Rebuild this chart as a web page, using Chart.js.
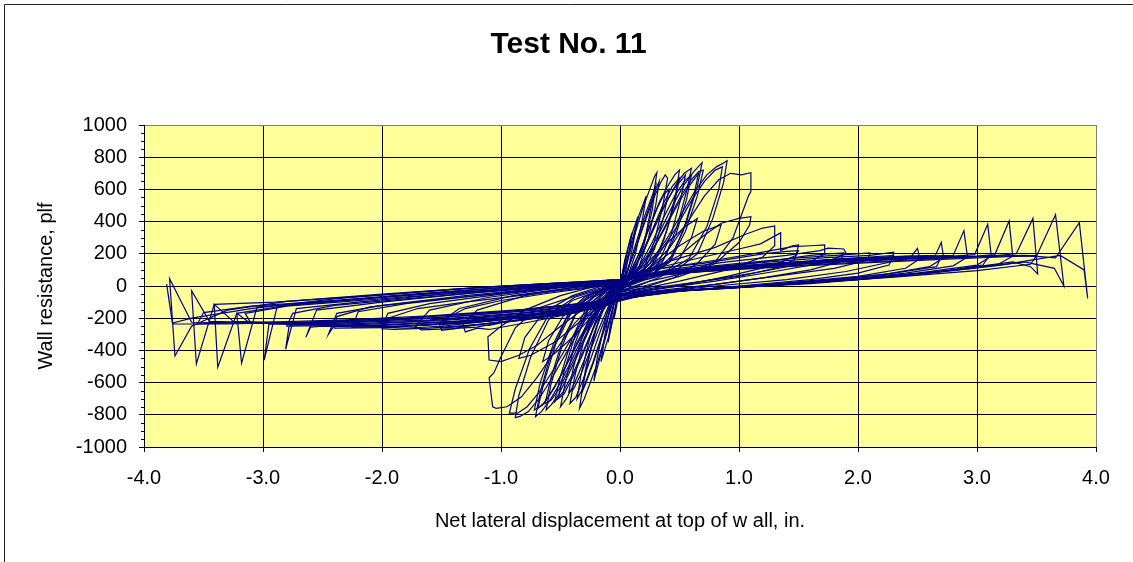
<!DOCTYPE html>
<html><head><meta charset="utf-8">
<script src="https://cdn.jsdelivr.net/npm/chart.js@4/dist/chart.umd.min.js"></script>
<style>html,body{margin:0;padding:0;background:#fff;}canvas{display:block;}</style>
</head><body>
<canvas id="c" width="1133" height="562"></canvas>
<script>
// ---- tick labels ----
const xTickValues = [-4, -3, -2, -1, 0, 1, 2, 3, 4];
const xTickLabels = ['-4.0', '-3.0', '-2.0', '-1.0', '0.0', '1.0', '2.0', '3.0', '4.0'];
const yTickValues = [-1000, -800, -600, -400, -200, 0, 200, 400, 600, 800, 1000];
const yTickLabels = ['-1000', '-800', '-600', '-400', '-200', '0', '200', '400', '600', '800', '1000'];

// ---- hysteresis cycles: [displacement (in), resistance (plf)] ----
const cycS1 = [[0,0],[0.02,80],[0.04,160],[0.05,190],[0.03,90],[0,-10],[-0.02,-90],[-0.04,-170],[-0.05,-200],[-0.03,-100],[0,0]];
const cycS2 = [[0,0],[0.03,110],[0.06,220],[0.1,330],[0.08,220],[0.04,60],[0,-20],[-0.04,-130],[-0.07,-240],[-0.1,-350],[-0.08,-230],[-0.04,-70],[0,10]];
const cycS3 = [[0,10],[0.04,140],[0.09,300],[0.15,430],[0.12,300],[0.07,100],[0.02,0],[-0.03,-110],[-0.09,-300],[-0.16,-470],[-0.13,-320],[-0.08,-110],[-0.02,0]];
const cycS4 = [[-0.02,0],[0.03,90],[0.1,280],[0.16,440],[0.22,560],[0.19,420],[0.13,200],[0.06,50],[0,-10],[-0.05,-110],[-0.11,-290],[-0.17,-450],[-0.22,-590],[-0.19,-440],[-0.12,-200],[-0.05,-40],[0,10]];
const cyc05 = [[0,10],[0.05,120],[0.12,310],[0.19,480],[0.25,600],[0.29,680],[0.31,704],[0.28,560],[0.22,330],[0.14,120],[0.06,30],[0,-10],[-0.06,-130],[-0.13,-330],[-0.2,-500],[-0.27,-640],[-0.3,-700],[-0.34,-760],[-0.31,-610],[-0.24,-380],[-0.16,-160],[-0.07,-40],[0,5]];
const cyc05b = [[0,5],[0.07,110],[0.14,280],[0.21,440],[0.27,560],[0.3,620],[0.27,470],[0.2,250],[0.11,80],[0.02,0],[-0.06,-100],[-0.14,-290],[-0.22,-470],[-0.29,-610],[-0.32,-660],[-0.29,-520],[-0.21,-280],[-0.12,-90],[-0.03,0]];
const cycF1 = [[0,0],[0.06,90],[0.13,230],[0.2,390],[0.26,520],[0.3,600],[0.33,650],[0.3,500],[0.24,300],[0.16,120],[0.07,30],[0,-20],[-0.07,-120],[-0.15,-300],[-0.23,-480],[-0.3,-620],[-0.36,-700],[-0.33,-560],[-0.26,-340],[-0.17,-140],[-0.08,-40],[0,0]];
const cyc06 = [[-0.03,0],[0.05,80],[0.13,230],[0.21,400],[0.28,540],[0.34,640],[0.38,690],[0.4,670],[0.36,500],[0.29,280],[0.2,110],[0.1,30],[0,-20],[-0.08,-110],[-0.16,-270],[-0.24,-440],[-0.31,-580],[-0.37,-690],[-0.42,-730],[-0.38,-560],[-0.3,-330],[-0.2,-140],[-0.09,-40],[0,10]];
const cyc06b = [[0,10],[0.08,70],[0.16,200],[0.24,350],[0.31,480],[0.37,570],[0.41,600],[0.37,440],[0.29,230],[0.19,80],[0.08,10],[-0.02,-40],[-0.1,-130],[-0.18,-270],[-0.26,-420],[-0.33,-550],[-0.39,-640],[-0.43,-660],[-0.39,-500],[-0.3,-270],[-0.19,-100],[-0.07,-20],[0,0]];
const cyc07 = [[0,10],[0.08,80],[0.16,200],[0.25,370],[0.33,520],[0.4,620],[0.46,690],[0.5,720],[0.47,580],[0.4,360],[0.3,160],[0.18,60],[0.05,10],[-0.05,-40],[-0.14,-150],[-0.22,-300],[-0.3,-460],[-0.38,-600],[-0.45,-700],[-0.5,-750],[-0.46,-600],[-0.38,-360],[-0.27,-150],[-0.14,-50],[0,0]];
const cyc07b = [[0,0],[0.1,80],[0.2,220],[0.29,380],[0.37,520],[0.44,620],[0.5,670],[0.46,520],[0.37,290],[0.26,120],[0.12,40],[0,-10],[-0.12,-100],[-0.22,-250],[-0.31,-420],[-0.4,-570],[-0.47,-670],[-0.52,-700],[-0.47,-530],[-0.37,-290],[-0.24,-100],[-0.1,-20]];
const cycF2 = [[0,0],[0.09,80],[0.19,210],[0.29,370],[0.38,510],[0.46,610],[0.52,660],[0.55,690],[0.51,540],[0.43,320],[0.32,140],[0.18,50],[0.04,0],[-0.08,-70],[-0.19,-210],[-0.3,-390],[-0.4,-550],[-0.48,-660],[-0.55,-720],[-0.5,-560],[-0.4,-320],[-0.28,-130],[-0.12,-30],[0,5]];
const cyc08 = [[-0.1,-20],[0,20],[0.1,90],[0.2,220],[0.3,380],[0.39,520],[0.47,630],[0.54,700],[0.6,731],[0.56,590],[0.48,370],[0.37,170],[0.23,70],[0.08,20],[-0.05,-40],[-0.15,-120],[-0.25,-260],[-0.35,-420],[-0.44,-560],[-0.52,-680],[-0.58,-740],[-0.62,-770],[-0.58,-610],[-0.49,-380],[-0.37,-170],[-0.22,-70],[-0.06,-10]];
const cyc08b = [[-0.06,-10],[0.05,30],[0.16,120],[0.27,270],[0.37,430],[0.46,560],[0.54,650],[0.6,690],[0.56,540],[0.47,320],[0.35,140],[0.2,50],[0.04,0],[-0.1,-70],[-0.22,-200],[-0.33,-370],[-0.43,-520],[-0.51,-640],[-0.58,-710],[-0.63,-730],[-0.58,-570],[-0.48,-330],[-0.35,-140],[-0.18,-40],[0,10]];
const cycF3 = [[0,5],[0.12,70],[0.25,190],[0.37,350],[0.48,500],[0.57,610],[0.64,680],[0.66,700],[0.62,560],[0.53,340],[0.41,150],[0.25,60],[0.08,10],[-0.07,-50],[-0.2,-160],[-0.33,-320],[-0.45,-490],[-0.55,-630],[-0.63,-720],[-0.69,-760],[-0.64,-600],[-0.54,-360],[-0.4,-150],[-0.22,-50],[-0.05,0]];
const cyc09 = [[0,10],[0.12,80],[0.24,200],[0.35,360],[0.45,510],[0.54,630],[0.62,710],[0.69,766],[0.65,620],[0.56,400],[0.44,190],[0.28,80],[0.1,20],[-0.05,-40],[-0.17,-130],[-0.29,-280],[-0.4,-450],[-0.5,-600],[-0.59,-710],[-0.66,-780],[-0.71,-812],[-0.67,-660],[-0.58,-420],[-0.45,-200],[-0.28,-80],[-0.1,-20]];
const cyc09b = [[-0.1,-20],[0.04,30],[0.17,110],[0.3,260],[0.42,430],[0.52,570],[0.6,660],[0.66,710],[0.7,720],[0.65,560],[0.55,340],[0.42,150],[0.25,60],[0.06,0],[-0.1,-60],[-0.23,-180],[-0.36,-350],[-0.47,-520],[-0.57,-650],[-0.65,-740],[-0.72,-770],[-0.67,-600],[-0.56,-360],[-0.42,-150],[-0.24,-50],[-0.05,0]];
const cyc10 = [[-0.05,0],[0.1,50],[0.25,140],[0.39,290],[0.52,450],[0.63,590],[0.73,690],[0.81,740],[0.86,760],[0.9,778],[0.87,640],[0.78,420],[0.65,200],[0.46,90],[0.22,40],[0,-20],[-0.15,-90],[-0.3,-220],[-0.44,-400],[-0.57,-570],[-0.68,-700],[-0.77,-780],[-0.84,-810],[-0.88,-818],[-0.85,-680],[-0.75,-440],[-0.6,-210],[-0.4,-90],[-0.18,-30]];
const cyc10b = [[-0.18,-30],[0,10],[0.16,70],[0.32,190],[0.47,360],[0.6,530],[0.71,650],[0.8,720],[0.86,740],[0.83,600],[0.73,370],[0.58,170],[0.38,80],[0.12,20],[-0.1,-50],[-0.27,-170],[-0.42,-340],[-0.56,-520],[-0.68,-660],[-0.78,-750],[-0.86,-790],[-0.93,-790],[-0.88,-640],[-0.76,-390],[-0.6,-180],[-0.38,-70],[-0.12,-10]];
const cyc11 = [[-0.12,-10],[0.05,30],[0.23,100],[0.41,230],[0.57,400],[0.71,560],[0.83,660],[0.93,700],[1.02,690],[1.1,704],[1.1,586],[1.08,560],[1.04,480],[0.95,300],[0.8,150],[0.55,80],[0.25,30],[0,-30],[-0.2,-100],[-0.38,-230],[-0.55,-410],[-0.7,-570],[-0.83,-690],[-0.95,-750],[-1.04,-760],[-1.07,-750],[-1.1,-570],[-1.06,-540],[-1.0,-440],[-0.88,-260],[-0.7,-140],[-0.45,-80],[-0.2,-20]];
const cyc11b = [[-0.2,-20],[0,20],[0.25,90],[0.5,190],[0.7,310],[0.85,390],[1.0,420],[1.1,430],[1.09,380],[1.0,270],[0.8,140],[0.5,60],[0.2,0],[0,-30],[-0.25,-110],[-0.5,-250],[-0.7,-370],[-0.85,-430],[-1.0,-470],[-1.1,-460],[-1.11,-315],[-1.0,-250],[-0.8,-150],[-0.5,-60],[-0.2,0]];
const cycF4 = [[0,0],[0.1,60],[0.25,160],[0.4,270],[0.55,370],[0.65,420],[0.6,300],[0.5,170],[0.35,60],[0.15,0],[0,-40],[-0.1,-100],[-0.25,-200],[-0.4,-320],[-0.55,-420],[-0.65,-470],[-0.6,-340],[-0.48,-190],[-0.3,-70],[-0.12,-10],[0,10]];
const cycF5 = [[0,10],[0.12,50],[0.3,140],[0.5,250],[0.7,340],[0.85,380],[0.8,260],[0.65,140],[0.45,50],[0.2,-10],[0,-40],[-0.15,-110],[-0.35,-230],[-0.55,-350],[-0.75,-430],[-0.85,-450],[-0.8,-320],[-0.65,-170],[-0.4,-60],[-0.15,0]];
const cyc13 = [[0,-30],[0.05,20],[0.15,80],[0.4,150],[0.8,240],[1.05,320],[1.2,360],[1.3,373],[1.3,250],[1.2,180],[0.9,100],[0.5,30],[0.1,-30],[-0.1,-90],[-0.4,-170],[-0.8,-230],[-1.1,-270],[-1.2,-262],[-1.3,-285],[-1.32,-240],[-1.2,-150],[-0.8,-60],[-0.4,-10],[0,20]];
const cyc15 = [[0,20],[0.1,60],[0.3,110],[0.7,180],[1.0,230],[1.18,262],[1.35,330],[1.35,220],[1.45,250],[1.5,255],[1.48,190],[1.3,130],[0.9,60],[0.5,0],[0.1,-40],[-0.1,-100],[-0.4,-160],[-0.8,-210],[-1.0,-225],[-1.2,-255],[-1.35,-262],[-1.5,-275],[-1.52,-230],[-1.35,-140],[-0.9,-60],[-0.4,-10],[0,25]];
const cyc15b = [[0,25],[0.08,70],[0.2,95],[0.45,120],[0.7,140],[0.95,170],[1.2,200],[1.4,215],[1.5,220],[1.46,160],[1.3,110],[1.0,60],[0.6,20],[0.3,-10],[0,-50],[-0.1,-110],[-0.3,-150],[-0.6,-185],[-0.9,-215],[-1.2,-240],[-1.4,-255],[-1.5,-260],[-1.46,-200],[-1.3,-140],[-1.0,-90],[-0.6,-45],[-0.2,-5],[0,15]];
const cyc17 = [[0,25],[0.1,70],[0.35,110],[0.8,160],[1.2,210],[1.45,245],[1.6,250],[1.72,255],[1.72,200],[1.6,150],[1.2,90],[0.7,30],[0.2,-30],[-0.1,-110],[-0.5,-180],[-1.0,-230],[-1.1,-245],[-1.2,-240],[-1.4,-265],[-1.67,-272],[-1.72,-250],[-1.6,-150],[-1.1,-70],[-0.5,-10],[0,20]];
const cyc19 = [[0,20],[0.1,50],[0.4,100],[0.9,150],[1.4,190],[1.68,220],[1.75,235],[1.88,230],[1.9,205],[1.75,150],[1.3,90],[0.8,30],[0.3,-20],[-0.1,-90],[-0.5,-160],[-1.0,-210],[-1.5,-250],[-1.8,-262],[-2.0,-255],[-1.95,-170],[-1.6,-110],[-1.0,-50],[-0.4,0],[0,30]];
const cyc19b = [[0,15],[0.1,55],[0.3,80],[0.6,105],[1.0,130],[1.3,160],[1.6,190],[1.75,200],[1.88,205],[1.85,150],[1.6,100],[1.2,50],[0.8,10],[0.4,-30],[0,-60],[-0.1,-120],[-0.4,-170],[-0.8,-205],[-1.2,-240],[-1.6,-262],[-1.9,-270],[-2.0,-265],[-1.95,-200],[-1.7,-140],[-1.3,-100],[-0.8,-55],[-0.3,-10],[0,20]];
const cyc21 = [[0,30],[0.1,60],[0.4,95],[1.0,140],[1.5,175],[1.9,195],[2.1,205],[2.08,160],[1.8,110],[1.3,60],[0.8,10],[0.3,-30],[-0.1,-100],[-0.6,-170],[-1.2,-220],[-1.8,-250],[-2.25,-255],[-2.2,-160],[-1.8,-110],[-1.2,-60],[-0.5,-5],[0,25]];
const cyc23 = [[0,25],[0.15,60],[0.5,100],[1.1,140],[1.7,175],[2.1,190],[2.3,210],[2.28,150],[1.9,90],[1.4,40],[0.8,0],[0.3,-40],[-0.1,-110],[-0.6,-180],[-1.2,-225],[-1.9,-250],[-2.4,-245],[-2.45,-300],[-2.38,-170],[-2.0,-120],[-1.3,-60],[-0.6,-10],[0,30]];
const cyc23b = [[0,20],[0.1,45],[0.4,75],[0.8,105],[1.3,135],[1.8,165],[2.1,180],[2.3,190],[2.26,130],[2.0,80],[1.6,40],[1.0,0],[0.5,-30],[0,-60],[-0.1,-115],[-0.5,-160],[-1.0,-200],[-1.5,-235],[-2.0,-258],[-2.4,-262],[-2.38,-190],[-2.1,-130],[-1.6,-90],[-1.0,-45],[-0.4,0],[0,25]];
const cyc25 = [[0,30],[0.15,55],[0.5,90],[1.2,135],[1.8,165],[2.3,180],[2.45,185],[2.5,234],[2.52,170],[2.4,110],[2.0,60],[1.4,20],[0.7,-20],[0.2,-50],[-0.1,-110],[-0.7,-190],[-1.4,-235],[-2.0,-255],[-2.5,-250],[-2.6,-255],[-2.64,-319],[-2.55,-150],[-2.0,-100],[-1.2,-40],[-0.5,5],[0,35]];
const cyc27 = [[0,35],[0.15,60],[0.6,100],[1.3,140],[1.9,170],[2.4,185],[2.65,190],[2.7,271],[2.72,175],[2.6,120],[2.2,70],[1.5,20],[0.8,-15],[0.2,-45],[-0.1,-100],[-0.6,-170],[-1.3,-220],[-2.0,-245],[-2.6,-240],[-2.78,-245],[-2.81,-393],[-2.72,-140],[-2.2,-100],[-1.4,-45],[-0.6,5],[0,40]];
const cyc27b = [[0,25],[0.1,50],[0.5,80],[1.0,110],[1.6,140],[2.1,160],[2.5,175],[2.7,185],[2.66,120],[2.3,80],[1.8,40],[1.2,5],[0.6,-25],[0,-55],[-0.1,-105],[-0.6,-155],[-1.2,-195],[-1.8,-225],[-2.3,-245],[-2.8,-250],[-2.75,-170],[-2.4,-120],[-1.8,-80],[-1.1,-35],[-0.4,5],[0,30]];
const cyc29 = [[0,40],[0.2,70],[0.7,110],[1.4,145],[2.1,170],[2.6,185],[2.8,190],[2.89,344],[2.92,180],[2.8,125],[2.4,80],[1.7,25],[0.9,-15],[0.3,-40],[-0.1,-95],[-0.7,-175],[-1.4,-220],[-2.1,-245],[-2.7,-240],[-2.95,-235],[-2.99,-460],[-2.88,-125],[-2.4,-95],[-1.6,-45],[-0.7,5],[0,35]];
const cyc31 = [[0,35],[0.2,65],[0.8,110],[1.5,145],[2.2,170],[2.8,185],[2.98,195],[3.09,383],[3.12,185],[3.0,130],[2.5,80],[1.8,30],[1.0,-10],[0.3,-40],[-0.1,-100],[-0.7,-170],[-1.5,-215],[-2.3,-235],[-2.9,-230],[-3.12,-225],[-3.22,-170],[-3.18,-480],[-3.05,-130],[-2.5,-100],[-1.7,-50],[-0.8,0],[0,40]];
const cyc31b = [[0,30],[0.15,55],[0.6,85],[1.2,115],[1.8,140],[2.4,160],[2.8,175],[3.1,185],[3.05,130],[2.7,90],[2.1,50],[1.4,10],[0.7,-20],[0,-50],[-0.1,-100],[-0.7,-150],[-1.4,-190],[-2.0,-215],[-2.6,-230],[-3.1,-232],[-3.15,-170],[-2.8,-125],[-2.1,-85],[-1.3,-40],[-0.5,0],[0,30]];
const cyc33 = [[0,40],[0.2,70],[0.8,110],[1.6,150],[2.4,172],[3.0,185],[3.15,195],[3.27,404],[3.3,185],[3.18,135],[2.7,90],[2.0,40],[1.2,0],[0.4,-35],[-0.1,-95],[-0.8,-165],[-1.6,-210],[-2.4,-230],[-3.0,-225],[-3.25,-220],[-3.41,-114],[-3.38,-505],[-3.22,-170],[-2.7,-110],[-1.9,-60],[-1.0,-10],[0,40]];
const cyc35 = [[0,40],[0.2,65],[0.9,110],[1.7,150],[2.5,172],[3.1,185],[3.33,200],[3.47,420],[3.51,75],[3.45,120],[3.3,150],[2.8,100],[2.1,50],[1.3,5],[0.5,-30],[-0.1,-90],[-0.9,-160],[-1.7,-205],[-2.5,-225],[-3.1,-225],[-3.45,-220],[-3.6,-29],[-3.56,-484],[-3.41,-114],[-2.9,-100],[-2.0,-55],[-1.1,-5],[0,40]];
const cyc35b = [[0,30],[0.15,55],[0.7,90],[1.4,120],[2.1,145],[2.7,165],[3.2,180],[3.5,190],[3.45,135],[3.0,95],[2.3,55],[1.5,15],[0.7,-20],[0,-45],[-0.1,-95],[-0.8,-145],[-1.6,-185],[-2.3,-210],[-3.0,-225],[-3.55,-235],[-3.5,-165],[-3.1,-125],[-2.4,-90],[-1.5,-45],[-0.6,0],[0,30]];
const cyc37 = [[0,40],[0.25,70],[1.0,115],[1.8,150],[2.6,175],[3.2,185],[3.5,185],[3.66,443],[3.73,0],[3.65,110],[3.4,150],[2.9,105],[2.2,55],[1.4,10],[0.5,-30],[-0.1,-90],[-0.9,-155],[-1.8,-200],[-2.6,-225],[-3.2,-228],[-3.6,-225],[-3.785,45],[-3.74,-435],[-3.6,-250],[-3.3,-150],[-2.8,-95],[-2.0,-50],[-1.1,-5],[0,40]];
const cyc39 = [[0,40],[0.25,70],[1.0,115],[1.9,155],[2.8,180],[3.4,190],[3.66,175],[3.86,393],[3.93,-77],[3.9,100],[3.7,190],[3.2,130],[2.5,70],[1.6,15],[0.6,-25],[-0.1,-90],[-1.0,-160],[-1.9,-205],[-2.8,-228],[-3.3,-236],[-3.76,-236],[-3.81,12],[-3.76,-230],[-3.6,-200],[-3.1,-140],[-2.4,-80],[-1.4,-20],[-0.5,20],[0,30]];

const cycles = [cycS1, cycS2, cycS3, cycS4, cyc05, cyc05b, cycF1, cyc06, cyc06b, cyc07, cyc07b, cycF2,
  cyc08, cyc08b, cycF3, cyc09, cyc09b, cyc10, cyc10b, cyc11, cyc11b, cycF4, cycF5,
  cyc13, cyc15, cyc15b, cyc17, cyc19, cyc19b, cyc21, cyc23, cyc23b, cyc25, cyc27, cyc27b,
  cyc29, cyc31, cyc31b, cyc33, cyc35, cyc35b, cyc37, cyc39];

const FONT = "'Liberation Sans', Arial, sans-serif";

const plotBg = {
  id: 'plotBg',
  beforeDraw(chart) {
    const {ctx, chartArea: a} = chart;
    ctx.save();
    ctx.fillStyle = '#FFFF99';
    ctx.fillRect(a.left, a.top, a.right - a.left, a.bottom - a.top);
    ctx.restore();
  },
  afterDraw(chart) {
    const {ctx, chartArea: a} = chart;
    const ys = chart.scales.y;
    ctx.save();
    ctx.strokeStyle = '#000';
    ctx.lineWidth = 1;
    ctx.beginPath();
    for (let i = 0; i < yTickValues.length - 1; i++) {
      for (let k = 1; k < 4; k++) {
        const v = yTickValues[i] + k * 50;
        const py = Math.round(ys.getPixelForValue(v)) + 0.5;
        ctx.moveTo(a.left - 3, py);
        ctx.lineTo(a.left, py);
      }
    }
    ctx.stroke();
    ctx.strokeStyle = '#222';
    ctx.beginPath();
    ctx.moveTo(4.5, 562);
    ctx.lineTo(4.5, 4.5);
    ctx.lineTo(1133, 4.5);
    ctx.stroke();
    ctx.restore();
  }
};

new Chart(document.getElementById('c'), {
  type: 'scatter',
  data: {
    datasets: cycles.map(c => ({
      data: c.map(p => ({x: p[0], y: p[1]})),
      showLine: true,
      borderColor: '#000080',
      backgroundColor: '#000080',
      borderWidth: 1.2,
      pointRadius: 0,
      tension: 0
    }))
  },
  options: {
    responsive: false,
    animation: false,
    layout: {padding: {left: 41, right: 37, top: 0, bottom: 0}},
    plugins: {
      legend: {display: false},
      tooltip: {enabled: false},
      title: {
        display: true,
        text: 'Test No. 11',
        color: '#000',
        font: {family: FONT, size: 30, weight: 'bold'},
        padding: {top: 27, bottom: 62}
      }
    },
    scales: {
      x: {
        type: 'linear',
        min: -4, max: 4,
        afterBuildTicks(s) { s.ticks = xTickValues.map(v => ({value: v})); },
        afterFit(s) { s.height = 115; },
        ticks: {
          color: '#000',
          font: {family: FONT, size: 20},
          padding: 14,
          maxRotation: 0,
          callback: (v, i) => xTickLabels[i]
        },
        grid: {
          color: ctx => (ctx.tick && ctx.tick.value === 4) ? '#808080' : '#000',
          lineWidth: 1,
          tickLength: 5,
          tickColor: '#000'
        },
        border: {color: '#000', width: 1},
        title: {
          display: true,
          text: 'Net lateral displacement at top of w all, in.',
          color: '#000',
          font: {family: FONT, size: 20},
          padding: {top: 0, bottom: 29}
        }
      },
      y: {
        type: 'linear',
        min: -1000, max: 1000,
        afterBuildTicks(s) { s.ticks = yTickValues.map(v => ({value: v})); },
        afterFit(s) { s.width = 103; },
        ticks: {
          color: '#000',
          font: {family: FONT, size: 20},
          padding: 12,
          callback: (v, i) => yTickLabels[i]
        },
        grid: {
          color: ctx => (ctx.tick && ctx.tick.value === 1000) ? '#808080' : '#000',
          lineWidth: 1,
          tickLength: 5,
          tickColor: '#000'
        },
        border: {color: '#000', width: 1},
        title: {
          display: true,
          text: 'Wall resistance, plf',
          color: '#000',
          font: {family: FONT, size: 20},
          padding: {top: -7, bottom: 0}
        }
      }
    }
  },
  plugins: [plotBg]
});
</script>
</body></html>
